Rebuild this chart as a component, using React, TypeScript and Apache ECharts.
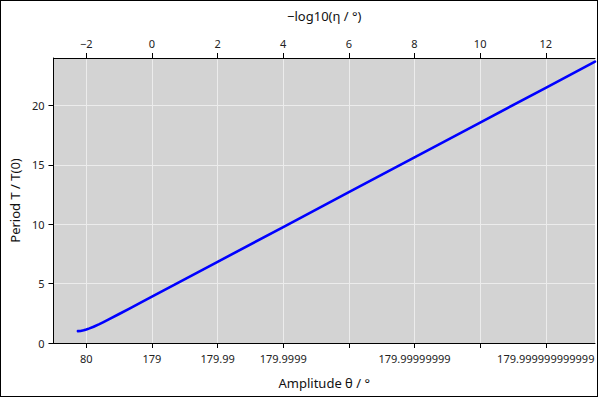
import React, { useEffect, useRef } from "react";
import * as echarts from "echarts";

// −log10(η / °) positions of the curve points (η = 180° − θ)
const logEta: number[] = [-2.255, -2.176, -2.079, -2.0, -1.903, -1.778, -1.602, -1.477, -1.301, -1.0, -0.699, -0.301, 0, 2, 4, 6, 8, 10, 12, 13.5];
// Period ratio T / T(0)
const periodRatio: number[] = [1.0, 1.017, 1.073, 1.138, 1.232, 1.373, 1.595, 1.762, 2.008, 2.44, 2.878, 3.46, 3.901, 6.833, 9.765, 12.697, 15.628, 18.56, 21.492, 23.69];

const topTicks: number[] = [-2, 0, 2, 4, 6, 8, 10, 12];
const bottomTickLabels: string[] = ["80", "179", "179.99", "179.9999", "", "179.99999999", "", "179.999999999999"];
const yTicks: number[] = [0, 5, 10, 15, 20];

const FONT = "Noto Sans";

export default function App() {
  const ref = useRef<HTMLDivElement>(null);
  useEffect(() => {
    document.body.style.margin = "0";
    if (!ref.current) return;
    const chart = echarts.init(ref.current, null, { renderer: "svg" });
    const labelStyle = { color: "#222", fontFamily: FONT, fontSize: 11 };
    const nameStyle = { color: "#111", fontFamily: FONT, fontSize: 13 };
    const axisLine = { show: true, onZero: false, lineStyle: { color: "#000", width: 1 } };
    const split = { show: true, lineStyle: { color: "#ececec", width: 1 } };
    chart.setOption({
      animation: false,
      grid: { left: 52, right: 5, top: 58, bottom: 55, show: true, backgroundColor: "#d3d3d3", borderWidth: 0 },
      xAxis: [
        {
          type: "value",
          position: "top",
          min: -3,
          max: 13.5,
          name: "\u2212log10(\u03b7 / \u00b0)",
          nameLocation: "middle",
          nameGap: 36,
          nameTextStyle: nameStyle,
          axisLine,
          axisTick: { show: true, length: 5, customValues: topTicks, lineStyle: { color: "#000" } },
          axisLabel: {
            ...labelStyle,
            margin: 9,
            customValues: topTicks,
            formatter: (v: number) => (v < 0 ? "\u2212" + Math.abs(v) : String(v)),
          },
          splitLine: split,
        },
        {
          type: "value",
          position: "bottom",
          min: -3,
          max: 13.5,
          name: "Amplitude \u03b8 / \u00b0",
          nameLocation: "middle",
          nameGap: 33,
          nameTextStyle: nameStyle,
          axisLine,
          axisTick: { show: true, length: 5, customValues: topTicks, lineStyle: { color: "#000" } },
          axisLabel: {
            ...labelStyle,
            margin: 10,
            customValues: topTicks,
            formatter: (v: number) => {
              const i = topTicks.indexOf(Math.round(v));
              return i >= 0 ? bottomTickLabels[i] : "";
            },
          },
          splitLine: { show: false },
        },
      ],
      yAxis: {
        type: "value",
        min: 0,
        max: 24,
        interval: 5,
        name: "Period T / T(0)",
        nameLocation: "middle",
        nameGap: 30,
        nameTextStyle: nameStyle,
        axisLine,
        axisTick: { show: true, length: 5, customValues: yTicks, lineStyle: { color: "#000" } },
        axisLabel: { ...labelStyle, margin: 9, customValues: yTicks },
        splitLine: split,
      },
      series: [
        {
          type: "line",
          xAxisIndex: 0,
          data: logEta.map((x, i) => [x, periodRatio[i]]),
          showSymbol: false,
          smooth: false,
          lineStyle: { color: "#0000ff", width: 2.6, join: "round", cap: "round" },
          clip: true,
        },
      ],
    });
    return () => chart.dispose();
  }, []);
  return (
    <div style={{ position: "relative", width: 600, height: 398, background: "#fff" }}>
      <div ref={ref} style={{ position: "absolute", left: 0, top: 0, width: 600, height: 398 }} />
      <div
        style={{
          position: "absolute",
          left: 0,
          top: 0,
          width: 598,
          height: 397,
          border: "1px solid #000",
          boxSizing: "border-box",
          pointerEvents: "none",
        }}
      />
    </div>
  );
}
